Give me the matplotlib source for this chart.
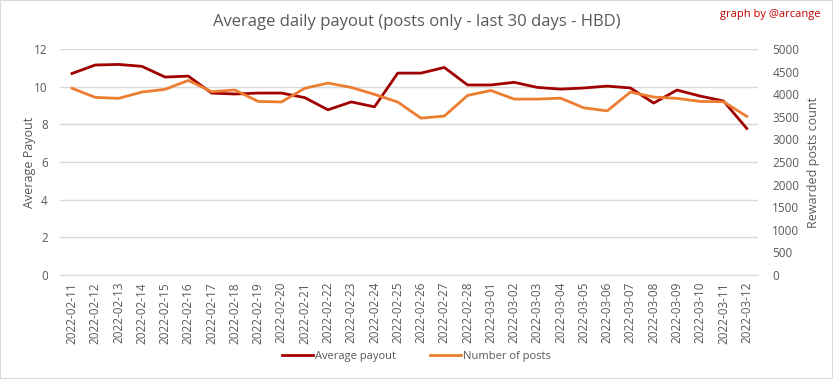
import matplotlib.pyplot as plt
import numpy as np

dates = [
    "2022-02-11", "2022-02-12", "2022-02-13", "2022-02-14", "2022-02-15",
    "2022-02-16", "2022-02-17", "2022-02-18", "2022-02-19", "2022-02-20",
    "2022-02-21", "2022-02-22", "2022-02-23", "2022-02-24", "2022-02-25",
    "2022-02-26", "2022-02-27", "2022-02-28", "2022-03-01", "2022-03-02",
    "2022-03-03", "2022-03-04", "2022-03-05", "2022-03-06", "2022-03-07",
    "2022-03-08", "2022-03-09", "2022-03-10", "2022-03-11", "2022-03-12",
]
avg_payout = [
    10.70, 11.15, 11.18, 11.08, 10.51, 10.56, 9.66, 9.61, 9.66, 9.66,
    9.42, 8.77, 9.19, 8.93, 10.72, 10.72, 11.02, 10.09, 10.09, 10.23,
    9.96, 9.87, 9.93, 10.03, 9.93, 9.13, 9.82, 9.50, 9.24, 7.78,
]
num_posts = [
    4130, 3930, 3908, 4047, 4108, 4305, 4055, 4093, 3840, 3828,
    4130, 4246, 4150, 3996, 3826, 3470, 3516, 3972, 4083, 3892,
    3892, 3912, 3698, 3631, 4047, 3937, 3908, 3840, 3833, 3510,
]

TXT = "#595959"
GRID = "#d9d9d9"
RED = "#a00000"
ORANGE = "#ed7d31"

plt.rcParams["font.family"] = ["Open Sans", "DejaVu Sans"]

fig = plt.figure(figsize=(8.33, 3.79), dpi=100)
ax = fig.add_axes([60.4 / 833, 1 - 275 / 379, 698 / 833, 226 / 379])
ax2 = ax.twinx()

x = np.arange(len(dates))
l1, = ax.plot(x, avg_payout, color=RED, linewidth=2, label="Average payout")
l2, = ax2.plot(x, num_posts, color=ORANGE, linewidth=2, label="Number of posts")

ax.set_xlim(-0.5, len(dates) - 0.5)
ax.set_ylim(0, 12)
ax.set_yticks(range(0, 13, 2))
ax2.set_ylim(0, 5000)
ax2.set_yticks(range(0, 5001, 500))
ax.set_xticks(x)
ax.set_xticklabels(dates, rotation=90)

ax.grid(axis="y", color=GRID, linewidth=1)
ax.set_axisbelow(True)
for a in (ax, ax2):
    for s in a.spines.values():
        s.set_visible(False)
    a.tick_params(length=0, colors=TXT, labelsize=8.5)
ax.spines["bottom"].set_visible(True)
ax.spines["bottom"].set_color(GRID)
ax.tick_params(axis="y", pad=9)
ax.tick_params(axis="x", pad=5)
ax2.tick_params(axis="y", pad=10)

ax.set_ylabel("Average Payout", color=TXT, fontsize=9)
ax2.set_ylabel("Rewarded posts count", color=TXT, fontsize=9)
ax.yaxis.set_label_coords(-0.035, 0.5)
ax2.yaxis.set_label_coords(1.07, 0.5)

fig.text(0.5, 1 - 22 / 379, "Average daily payout (posts only - last 30 days - HBD)",
         ha="center", va="center", color=TXT, fontsize=12)
fig.text(0.985, 1 - 15 / 379, "graph by @arcange", ha="right", va="center",
         color="#c00000", fontsize=8)

fig.legend([l1, l2], ["Average payout", "Number of posts"], loc="center",
           bbox_to_anchor=(0.5, 1 - 356 / 379), ncol=2, frameon=False,
           fontsize=8, labelcolor=TXT, handlelength=2.8, columnspacing=3,
           handletextpad=0.2)

border = plt.Rectangle((0, 0), 1, 1, transform=fig.transFigure, fill=False,
                       edgecolor="#d9d9d9", linewidth=1.5)
fig.patches.append(border)

fig.savefig("out.png", dpi=100)
